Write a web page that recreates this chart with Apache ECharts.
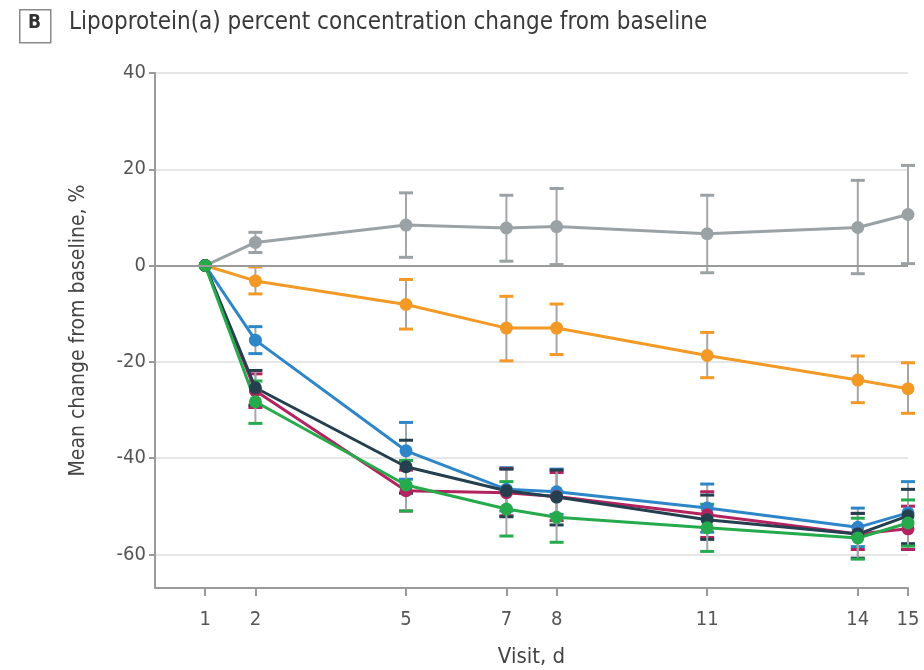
<!DOCTYPE html>
<html>
<head>
<meta charset="utf-8">
<script src="https://cdn.jsdelivr.net/npm/echarts@6/dist/echarts.min.js"></script>
<style>
  html, body { margin: 0; padding: 0; background: #fff; }
  #chart { width: 924px; height: 670px; }
</style>
</head>
<body>
<div id="chart"></div>
<script>
// visit days
const days = [1, 2, 5, 7, 8, 11, 14, 15];
const yTicks = [-60, -40, -20, 0, 20, 40];

// mean % change and error bar ends, per group
const grayMean = [0, 4.8, 8.4, 7.8, 8.1, 6.6, 7.9, 10.6];
const grayLo = [0, 2.7, 1.7, 0.9, 0.2, -1.5, -1.7, 0.4];
const grayHi = [0, 6.9, 15.1, 14.6, 16.0, 14.6, 17.7, 20.8];

const orangeMean = [0, -3.2, -8.1, -13.0, -13.0, -18.7, -23.8, -25.6];
const orangeLo = [0, -5.9, -13.2, -19.8, -18.5, -23.3, -28.5, -30.7];
const orangeHi = [0, -0.3, -2.9, -6.4, -8.0, -13.9, -18.8, -20.2];

const blueMean = [0, -15.5, -38.5, -46.5, -47.0, -50.4, -54.4, -51.4];
const blueLo = [0, -18.3, -44.4, -51.0, -51.7, -55.4, -58.4, -57.9];
const blueHi = [0, -12.7, -32.6, -42.0, -42.3, -45.4, -50.4, -44.9];

const magentaMean = [0, -26.0, -46.8, -47.2, -48.0, -51.8, -55.8, -54.7];
const magentaLo = [0, -29.5, -51.0, -52.0, -53.0, -56.5, -59.0, -59.0];
const magentaHi = [0, -22.5, -42.5, -42.2, -43.0, -47.0, -51.5, -50.0];

const navyMean = [0, -25.4, -41.8, -46.8, -48.1, -52.8, -55.8, -52.0];
const navyLo = [0, -29.0, -47.3, -52.2, -53.9, -56.9, -60.8, -57.8];
const navyHi = [0, -21.8, -36.3, -42.3, -42.5, -47.7, -51.5, -46.5];

const greenMean = [0, -28.3, -45.6, -50.6, -52.3, -54.5, -56.6, -53.5];
const greenLo = [0, -32.8, -51.0, -56.2, -57.5, -59.4, -61.0, -58.3];
const greenHi = [0, -24.0, -40.5, -44.9, -47.0, -49.6, -52.5, -48.7];

const groups = [
    { name: 'gray', color: '#9ba2a5', mean: grayMean, lo: grayLo, hi: grayHi },
    { name: 'orange', color: '#f29a25', mean: orangeMean, lo: orangeLo, hi: orangeHi },
    { name: 'blue', color: '#2e86c9', mean: blueMean, lo: blueLo, hi: blueHi },
    { name: 'magenta', color: '#b3235f', mean: magentaMean, lo: magentaLo, hi: magentaHi },
    { name: 'navy', color: '#24404f', mean: navyMean, lo: navyLo, hi: navyHi },
    { name: 'green', color: '#25aa4c', mean: greenMean, lo: greenLo, hi: greenHi }
];

const font = '"Liberation Sans Narrow", "DejaVu Sans Condensed", "Noto Sans", sans-serif';

const chart = echarts.init(document.getElementById('chart'));

const series = [];
groups.forEach(function (g) {
    // error bars
    series.push({
        name: g.name + '-err',
        type: 'custom',
        silent: true,
        data: days.slice(1).map(function (d, i) { return [d, g.lo[i + 1], g.hi[i + 1]]; }),
        renderItem: function (params, api) {
            const lo = api.coord([api.value(0), api.value(1)]);
            const hi = api.coord([api.value(0), api.value(2)]);
            const w = 7;
            return {
                type: 'group',
                children: [
                    { type: 'line', shape: { x1: lo[0], y1: lo[1], x2: hi[0], y2: hi[1] }, style: { stroke: '#a3a7a9', lineWidth: 2 } },
                    { type: 'line', shape: { x1: lo[0] - w, y1: lo[1], x2: lo[0] + w, y2: lo[1] }, style: { stroke: g.color, lineWidth: 3 } },
                    { type: 'line', shape: { x1: hi[0] - w, y1: hi[1], x2: hi[0] + w, y2: hi[1] }, style: { stroke: g.color, lineWidth: 3 } }
                ]
            };
        }
    });
    series.push({
        name: g.name,
        type: 'line',
        data: days.map(function (d, i) { return [d, g.mean[i]]; }),
        symbol: 'circle',
        symbolSize: 13,
        lineStyle: { color: g.color, width: 3 },
        itemStyle: { color: g.color },
        z: 3
    });
});

// zero reference line
series[0].markLine = {
    silent: true,
    symbol: 'none',
    label: { show: false },
    lineStyle: { color: '#9a9a9a', width: 2, type: 'solid' },
    data: [{ yAxis: 0 }]
};

const option = {
    animation: false,
    grid: { left: 155, right: 16, top: 73, bottom: 82, outerBoundsMode: 'none' },
    graphic: [
        { type: 'rect', left: 19, top: 9, shape: { width: 31, height: 33 }, style: { fill: '#fff', stroke: '#8a8a8a', lineWidth: 1.5 } },
        { type: 'text', left: 28, top: 14, style: { text: 'B', font: 'bold 19px ' + font, fill: '#333' } },
        { type: 'text', left: 69, top: 11, style: { text: 'Lipoprotein(a) percent concentration change from baseline', font: '24px ' + font, fill: '#3a3a3a' } }
    ],
    xAxis: {
        type: 'value',
        min: 0,
        max: 15,
        name: 'Visit, d',
        nameLocation: 'middle',
        nameGap: 58,
        nameTextStyle: { fontFamily: font, fontSize: 22, color: '#444' },
        axisLine: { onZero: false, lineStyle: { color: '#9a9a9a', width: 2 } },
        axisTick: { show: true, customValues: days, length: 8, lineStyle: { color: '#9a9a9a', width: 2 } },
        axisLabel: { customValues: days, margin: 22, fontFamily: font, fontSize: 20, color: '#555' },
        splitLine: { show: false }
    },
    yAxis: {
        type: 'value',
        min: -67,
        max: 40,
        name: 'Mean change from baseline, %',
        nameLocation: 'middle',
        nameGap: 66,
        nameTextStyle: { fontFamily: font, fontSize: 21, color: '#444' },
        axisLine: { show: true, lineStyle: { color: '#9a9a9a', width: 2 } },
        axisTick: { show: true, customValues: yTicks, length: 6, lineStyle: { color: '#9a9a9a', width: 2 } },
        axisLabel: { customValues: yTicks, margin: 9, fontFamily: font, fontSize: 20, color: '#555' },
        splitLine: { show: true, lineStyle: { color: '#e6e6e6', width: 2 } }
    },
    series: series
};

chart.setOption(option);
</script>
</body>
</html>
